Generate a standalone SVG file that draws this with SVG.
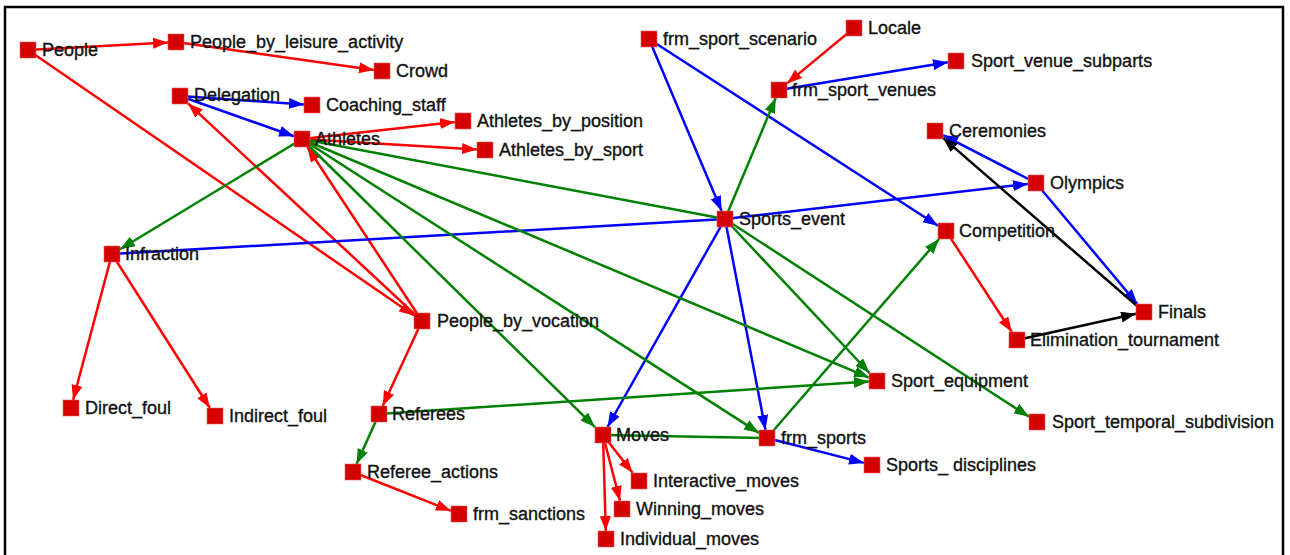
<svg xmlns="http://www.w3.org/2000/svg" width="1290" height="555" viewBox="0 0 1290 555">
<style>
.e{fill:none;stroke-width:2.5}
.r{stroke:#ff0000}.b{stroke:#0000ff}.g{stroke:#008000}.k{stroke:#000}
.n rect{fill:#d40000;stroke:#e86060;stroke-width:0.6}
.n text{font-family:"Liberation Sans",Arial,sans-serif;font-size:18px;fill:#111;stroke:#111;stroke-width:0.35}
</style>
<defs>
<marker id="ar" markerUnits="userSpaceOnUse" markerWidth="16" markerHeight="12" refX="15" refY="5.5" orient="auto"><path d="M0,0 L15,5.5 L0,11 z" fill="#ff0000"/></marker>
<marker id="ab" markerUnits="userSpaceOnUse" markerWidth="16" markerHeight="12" refX="15" refY="5.5" orient="auto"><path d="M0,0 L15,5.5 L0,11 z" fill="#0000ff"/></marker>
<marker id="ag" markerUnits="userSpaceOnUse" markerWidth="16" markerHeight="12" refX="15" refY="5.5" orient="auto"><path d="M0,0 L15,5.5 L0,11 z" fill="#008000"/></marker>
<marker id="ak" markerUnits="userSpaceOnUse" markerWidth="16" markerHeight="12" refX="15" refY="5.5" orient="auto"><path d="M0,0 L15,5.5 L0,11 z" fill="#000"/></marker>
</defs>
<rect x="0" y="0" width="1290" height="555" fill="#fff"/>
<rect x="5" y="7" width="1278" height="600" fill="none" stroke="#000" stroke-width="2.5"/>
<g id="connectors">
<line class="e r" x1="28" y1="50" x2="168" y2="42.4" marker-end="url(#ar)"/>
<line class="e r" x1="176" y1="42" x2="374" y2="69.9" marker-end="url(#ar)"/>
<line class="e r" x1="28" y1="50" x2="414" y2="315.5" marker-end="url(#ar)"/>
<line class="e r" x1="422" y1="321" x2="188" y2="103.4" marker-end="url(#ar)"/>
<line class="e r" x1="422" y1="321" x2="307.3" y2="147" marker-end="url(#ar)"/>
<line class="e r" x1="302" y1="139" x2="455" y2="121.9" marker-end="url(#ar)"/>
<line class="e r" x1="302" y1="139" x2="477" y2="149.5" marker-end="url(#ar)"/>
<line class="e r" x1="112" y1="254" x2="73.1" y2="400" marker-end="url(#ar)"/>
<line class="e r" x1="112" y1="254" x2="209.9" y2="408" marker-end="url(#ar)"/>
<line class="e r" x1="422" y1="321" x2="382.7" y2="406" marker-end="url(#ar)"/>
<line class="e r" x1="353" y1="472" x2="451" y2="510.8" marker-end="url(#ar)"/>
<line class="e r" x1="603" y1="435" x2="632.7" y2="473" marker-end="url(#ar)"/>
<line class="e r" x1="603" y1="435" x2="620" y2="501" marker-end="url(#ar)"/>
<line class="e r" x1="603" y1="435" x2="605.8" y2="531" marker-end="url(#ar)"/>
<line class="e r" x1="854" y1="28" x2="787" y2="83.4" marker-end="url(#ar)"/>
<line class="e r" x1="946" y1="231" x2="1011.8" y2="332" marker-end="url(#ar)"/>
<line class="e b" x1="180" y1="96" x2="304" y2="104.5" marker-end="url(#ab)"/>
<line class="e b" x1="180" y1="96" x2="294" y2="136.2" marker-end="url(#ab)"/>
<line class="e b" x1="112" y1="254" x2="725" y2="219"/>
<line class="e b" x1="725" y1="219" x2="1028" y2="183.9" marker-end="url(#ab)"/>
<line class="e b" x1="649" y1="39" x2="721.6" y2="211" marker-end="url(#ab)"/>
<line class="e b" x1="649" y1="39" x2="938" y2="225.8" marker-end="url(#ab)"/>
<line class="e b" x1="779" y1="90" x2="948" y2="62.3" marker-end="url(#ab)"/>
<line class="e b" x1="1036" y1="183" x2="943" y2="135.1" marker-end="url(#ab)"/>
<line class="e b" x1="1036" y1="183" x2="1137.3" y2="304" marker-end="url(#ab)"/>
<line class="e b" x1="725" y1="219" x2="607.5" y2="427" marker-end="url(#ab)"/>
<line class="e b" x1="725" y1="219" x2="765.5" y2="430" marker-end="url(#ab)"/>
<line class="e b" x1="767" y1="438" x2="864" y2="462.9" marker-end="url(#ab)"/>
<line class="e g" x1="302" y1="139" x2="120" y2="249.2" marker-end="url(#ag)"/>
<line class="e g" x1="302" y1="139" x2="725" y2="219"/>
<line class="e g" x1="302" y1="139" x2="595" y2="427.1" marker-end="url(#ag)"/>
<line class="e g" x1="302" y1="139" x2="759" y2="432.9" marker-end="url(#ag)"/>
<line class="e g" x1="302" y1="139" x2="869" y2="377.6" marker-end="url(#ag)"/>
<line class="e g" x1="725" y1="219" x2="869.5" y2="373" marker-end="url(#ag)"/>
<line class="e g" x1="725" y1="219" x2="1029" y2="416.8" marker-end="url(#ag)"/>
<line class="e g" x1="725" y1="219" x2="775.7" y2="98" marker-end="url(#ag)"/>
<line class="e g" x1="767" y1="438" x2="939.1" y2="239" marker-end="url(#ag)"/>
<line class="e g" x1="379" y1="414" x2="869" y2="381.5" marker-end="url(#ag)"/>
<line class="e g" x1="379" y1="414" x2="356.6" y2="464" marker-end="url(#ag)"/>
<line class="e g" x1="603" y1="435" x2="767" y2="438"/>
<line class="e k" x1="1144" y1="312" x2="943" y2="137.9" marker-end="url(#ak)"/>
<line class="e k" x1="1017" y1="340" x2="1136" y2="313.8" marker-end="url(#ak)"/>
</g>
<g id="People" class="n"><rect x="20" y="42" width="16" height="16"/><text x="42" y="56">People</text></g>
<g id="People_by_leisure_activity" class="n"><rect x="168" y="34" width="16" height="16"/><text x="190" y="48">People_by_leisure_activity</text></g>
<g id="Crowd" class="n"><rect x="374" y="63" width="16" height="16"/><text x="396" y="77">Crowd</text></g>
<g id="Delegation" class="n"><rect x="172" y="88" width="16" height="16"/><text x="194" y="101">Delegation</text></g>
<g id="Coaching_staff" class="n"><rect x="304" y="97" width="16" height="16"/><text x="326" y="111">Coaching_staff</text></g>
<g id="Athletes" class="n"><rect x="294" y="131" width="16" height="16"/><text x="315" y="145">Athletes</text></g>
<g id="Athletes_by_position" class="n"><rect x="455" y="113" width="16" height="16"/><text x="477" y="127">Athletes_by_position</text></g>
<g id="Athletes_by_sport" class="n"><rect x="477" y="142" width="16" height="16"/><text x="499" y="156">Athletes_by_sport</text></g>
<g id="Infraction" class="n"><rect x="104" y="246" width="16" height="16"/><text x="125" y="260">Infraction</text></g>
<g id="People_by_vocation" class="n"><rect x="414" y="313" width="16" height="16"/><text x="437" y="327">People_by_vocation</text></g>
<g id="Direct_foul" class="n"><rect x="63" y="400" width="16" height="16"/><text x="85" y="414">Direct_foul</text></g>
<g id="Indirect_foul" class="n"><rect x="207" y="408" width="16" height="16"/><text x="229" y="422">Indirect_foul</text></g>
<g id="Referees" class="n"><rect x="371" y="406" width="16" height="16"/><text x="392" y="420">Referees</text></g>
<g id="Referee_actions" class="n"><rect x="345" y="464" width="16" height="16"/><text x="367" y="478">Referee_actions</text></g>
<g id="frm_sanctions" class="n"><rect x="451" y="506" width="16" height="16"/><text x="473" y="520">frm_sanctions</text></g>
<g id="Moves" class="n"><rect x="595" y="427" width="16" height="16"/><text x="616" y="441">Moves</text></g>
<g id="Interactive_moves" class="n"><rect x="631" y="473" width="16" height="16"/><text x="653" y="487">Interactive_moves</text></g>
<g id="Winning_moves" class="n"><rect x="614" y="501" width="16" height="16"/><text x="636" y="515">Winning_moves</text></g>
<g id="Individual_moves" class="n"><rect x="598" y="531" width="16" height="16"/><text x="620" y="545">Individual_moves</text></g>
<g id="frm_sports" class="n"><rect x="759" y="430" width="16" height="16"/><text x="781" y="444">frm_sports</text></g>
<g id="Sports_disciplines" class="n"><rect x="864" y="457" width="16" height="16"/><text x="886" y="471">Sports_ disciplines</text></g>
<g id="Sport_equipment" class="n"><rect x="869" y="373" width="16" height="16"/><text x="891" y="387">Sport_equipment</text></g>
<g id="Sport_temporal_subdivision" class="n"><rect x="1029" y="414" width="16" height="16"/><text x="1052" y="428">Sport_temporal_subdivision</text></g>
<g id="Sports_event" class="n"><rect x="717" y="211" width="16" height="16"/><text x="739" y="225">Sports_event</text></g>
<g id="frm_sport_scenario" class="n"><rect x="641" y="31" width="16" height="16"/><text x="663" y="45">frm_sport_scenario</text></g>
<g id="Locale" class="n"><rect x="846" y="20" width="16" height="16"/><text x="868" y="34">Locale</text></g>
<g id="frm_sport_venues" class="n"><rect x="771" y="82" width="16" height="16"/><text x="792" y="96">frm_sport_venues</text></g>
<g id="Sport_venue_subparts" class="n"><rect x="948" y="53" width="16" height="16"/><text x="971" y="67">Sport_venue_subparts</text></g>
<g id="Ceremonies" class="n"><rect x="927" y="123" width="16" height="16"/><text x="949" y="137">Ceremonies</text></g>
<g id="Olympics" class="n"><rect x="1028" y="175" width="16" height="16"/><text x="1050" y="189">Olympics</text></g>
<g id="Competition" class="n"><rect x="938" y="223" width="16" height="16"/><text x="959" y="237">Competition</text></g>
<g id="Finals" class="n"><rect x="1136" y="304" width="16" height="16"/><text x="1158" y="318">Finals</text></g>
<g id="Elimination_tournament" class="n"><rect x="1009" y="332" width="16" height="16"/><text x="1030" y="346">Elimination_tournament</text></g>
</svg>
